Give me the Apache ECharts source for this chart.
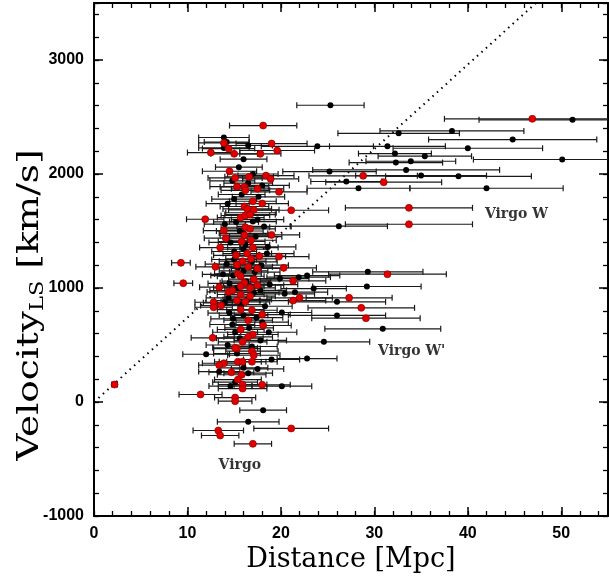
<!DOCTYPE html>
<html>
<head>
<meta charset="utf-8">
<script src="https://cdn.jsdelivr.net/npm/echarts@6/dist/echarts.min.js"></script>
<style>
html,body{margin:0;padding:0;background:#fff;}
#c{width:609px;height:581px;}
</style>
</head>
<body>
<div id="c"></div>
<script>
// Red galaxies: distance [Mpc], velocity [km/s], distance error [Mpc]
var redDist = [46.9,28.8,31.0,33.7,33.7,21.1,31.4,20.3,21.3,27.3,22.0,21.3,28.6,29.1,18.0,18.1,12.7,15.9,16.9,17.1,15.3,15.4,15.9,16.9,13.9,13.4,14.7,15.8,15.4,15.9,18.0,15.9,11.4,15.1,15.1,2.2,21.1,13.3,13.5,17.0,9.3,9.55,18.1,13.9,19.0,14.4,19.6,12.5,15.0,17.8,14.5,15.1,16.6,18.4,18.9,15.3,16.1,16.2,17.5,19.8,17.0,18.0,16.1,16.4,17.1,11.9,15.7,16.2,16.7,16.2,13.9,16.7,19.0,16.1,14.1,16.8,15.8,13.5,17.0,15.2,16.4,17.7,15.9,16.8,19.8,13.0,15.3,16.5,17.5,15.4,15.7,17.1,16.1,15.7,16.7,17.5,13.4,14.4,14.8,15.7,16.7,12.8,12.8,13.6,15.3,16.2,15.7,16.9,16.5,15.7,17.0,16.5,15.1];
var redVel  = [2484,1984,1928,1703,1559,1682,1121,1177,1063,914,914,890,826,735,767,671,563,528,446,410,469,353,353,353,340,323,261,239,197,153,151,118,66,39,7,153,-232,-250,-294,-367,1221,1042,2425,2273,2267,2223,2206,2188,2177,2177,2024,1966,1975,1986,1957,1890,1887,1857,1870,1844,1761,1741,1715,1694,1686,1603,1618,1636,1644,1533,1504,1519,1466,1463,1437,1419,1408,1355,1355,1287,1302,1279,1235,1256,1276,1186,1203,1186,1171,1124,1103,1077,1045,1016,1001,1024,1007,966,978,943,928,875,831,846,890,879,811,805,717,636,592,572,475];
var redErr  = [9.4,5.8,6.2,6.8,6.8,4.0,6.3,3.5,3.5,4.6,3.5,3.5,5.7,5.8,3.0,3.0,2.3,2.6,2.8,2.8,2.5,2.5,2.5,2.7,2.3,2.2,2.4,2.6,2.5,2.6,3.0,2.6,2.3,2.2,1.8,0.3,4.0,2.7,2.0,2.0,1.0,1.0,3.6,2.7,3.8,2.8,4.0,2.5,2.5,2.2,2.9,2.9,2.6,3.0,3.0,2.9,2.6,2.6,2.8,3.0,2.5,2.8,2.6,2.6,2.7,2.0,2.5,2.6,2.7,2.6,2.2,2.7,3.0,2.6,2.3,2.7,2.5,2.2,2.7,2.4,2.6,2.8,2.5,2.7,3.2,2.1,2.4,2.6,2.8,2.5,2.5,2.7,2.6,2.5,2.7,2.8,2.1,2.3,2.4,2.5,2.7,2.0,2.0,2.2,2.4,2.6,2.5,2.7,2.6,2.5,2.7,2.6,2.4];

// Black galaxies
var blackDist = [25.3,51.2,38.3,32.6,44.8,31.4,23.9,40.0,32.2,35.4,50.1,33.9,32.3,33.4,25.2,35.0,39.0,27.0,28.3,42.0,26.2,29.3,29.2,22.8,23.5,21.5,26.0,26.0,20.1,30.9,18.7,24.6,22.8,19.0,12.0,16.9,15.3,13.4,16.5,15.1,20.1,18.1,16.5,13.9,13.9,17.0,14.9,14.9,15.1,15.8,14.4,18.5,19.9,20.4,21.9,15.4,16.0,15.0,17.2,16.3,14.5,17.8,16.0,17.5,15.0,16.5,14.0,18.0,14.5,16.0,
  14.2,16.5,15.5,17.0,14.8,18.0,15.8,17.6,14.3,16.8,15.2,18.2,15.6,17.3,14.6,16.2,18.6,15.0,16.9,14.2,17.9,16.0,13.8,18.8,15.3,17.1,16.4,14.0,18.3,16.0,17.4,14.8,16.6,15.6,17.8,14.3,16.0,17.5,14.6];
var blackVel  = [2603,2475,2378,2357,2302,2243,2243,2226,2179,2156,2127,2112,2100,2036,2021,1986,1980,1934,1875,1875,1542,1142,1013,1109,995,963,879,759,785,642,612,528,381,373,419,487,425,267,253,174,139,-72,-174,2320,2229,1583,1109,730,612,855,914,1302,1083,949,1095,1177,1340,1250,1140,1060,1040,980,1480,1600,1780,1920,1560,700,780,2130,
  2280,2250,2060,2000,1940,1900,1820,1800,1740,1660,1580,1540,1500,1450,1400,1380,1360,1320,1230,1210,1200,1150,1120,1030,1000,960,900,870,840,760,740,680,650,560,540,500,300,290,140];
var blackErr  = [3.6,10.0,7.7,6.5,9.0,6.2,6.0,8.0,3.9,5.0,9.5,4.8,5.0,10.0,5.0,7.0,7.8,3.8,5.5,8.2,5.2,5.9,5.8,3.5,3.5,3.5,5.2,5.2,3.2,6.2,3.0,4.9,3.2,3.0,2.5,2.7,2.5,2.2,2.6,2.4,3.2,2.5,3.3,2.7,2.7,2.5,2.4,2.4,2.4,2.6,2.4,2.9,3.1,3.2,3.4,2.5,2.6,2.4,2.7,2.6,2.3,2.8,2.6,2.8,2.4,2.6,2.2,2.8,2.3,2.5,
  2.4,2.6,2.5,2.7,2.4,2.9,2.5,2.8,2.3,2.7,2.4,2.9,2.5,2.8,2.3,2.6,3.0,2.4,2.7,2.3,2.9,2.6,2.2,3.0,2.5,2.7,2.6,2.3,2.9,2.6,2.8,2.4,2.6,2.5,2.8,2.3,2.6,2.8,2.3];

// Hubble-flow reference line (dotted)
var hubbleDist = [0, 55];
var hubbleVel  = [0, 4070];

// Tick labels
var xTickLabels = [0, 10, 20, 30, 40, 50];
var yTickLabels = [-1000, 0, 1000, 2000, 3000];

// Annotations
var noteText = ['Virgo', 'Virgo W', "Virgo W'"];
var noteDist = [15.6, 45.2, 34.0];
var noteVel  = [-557, 1645, 443];

function zip(a, b, c) {
  var out = [];
  for (var i = 0; i < a.length; i++) out.push(c ? [a[i], b[i], c[i]] : [a[i], b[i]]);
  return out;
}

var redData = zip(redDist, redVel, redErr);
var blackData = zip(blackDist, blackVel, blackErr);
var errData = blackData.concat(redData);

var labelFont = 'Liberation Sans';
var titleFont = 'DejaVu Serif';

function majorAxis(pos, isX, showLabel, labels) {
  return {
    type: 'value',
    position: pos,
    min: isX ? 0 : -1000,
    max: isX ? 55 : 3500,
    interval: isX ? 10 : 1000,
    gridIndex: 0,
    axisLine: { show: true, onZero: false, lineStyle: { color: '#000', width: 2 } },
    axisTick: { show: true, inside: true, length: 9, lineStyle: { color: '#000', width: 1.5 } },
    splitLine: { show: false },
    axisLabel: {
      show: showLabel,
      color: '#000',
      fontFamily: labelFont,
      fontWeight: 'bold',
      fontSize: 16,
      margin: 10,
      formatter: function (v) { return labels.indexOf(v) >= 0 ? String(v) : ''; }
    }
  };
}
function minorAxis(pos, isX) {
  return {
    type: 'value',
    position: pos,
    min: isX ? 0 : -1000,
    max: isX ? 55 : 3500,
    interval: isX ? 2 : 200,
    gridIndex: 0,
    axisLine: { show: false, onZero: false },
    axisTick: { show: true, inside: true, length: 5, lineStyle: { color: '#000', width: 1.3 } },
    splitLine: { show: false },
    axisLabel: { show: false }
  };
}

var xMain = majorAxis('bottom', true, true, xTickLabels);
xMain.name = 'Distance [Mpc]';
xMain.nameLocation = 'middle';
xMain.nameGap = 30;
xMain.nameTextStyle = { fontFamily: titleFont, fontSize: 27, color: '#000' };

var yMain = majorAxis('left', false, true, yTickLabels);

var option = {
  animation: false,
  backgroundColor: '#fff',
  grid: { left: 94, right: 1, top: 3, bottom: 65, containLabel: false, outerBoundsMode: 'none' },
  xAxis: [xMain, minorAxis('bottom', true), majorAxis('top', true, false, xTickLabels), minorAxis('top', true)],
  yAxis: [yMain, minorAxis('left', false), majorAxis('right', false, false, yTickLabels), minorAxis('right', false)],
  graphic: [{
    type: 'text',
    x: 30,
    y: 305,
    rotation: Math.PI / 2,
    scaleX: 1.25,
    silent: true,
    style: {
      text: '{a|Velocity}{b|LS}{a| [km/s]}',
      align: 'center',
      verticalAlign: 'middle',
      fill: '#000',
      rich: {
        a: { fontFamily: titleFont, fontSize: 30, fill: '#000', color: '#000' },
        b: { fontFamily: titleFont, fontSize: 18, fill: '#000', color: '#000', padding: [16, 0, 0, 0] }
      }
    }
  }],
  series: [
    {
      type: 'line',
      data: zip(hubbleDist, hubbleVel),
      showSymbol: false,
      symbol: 'none',
      clip: true,
      lineStyle: { color: '#000', width: 2, type: [1.5, 4.5] },
      z: 1
    },
    {
      type: 'custom',
      data: errData,
      clip: true,
      z: 2,
      renderItem: function (params, api) {
        var d = api.value(0), v = api.value(1), e = api.value(2);
        var p1 = api.coord([d - e, v]);
        var p2 = api.coord([d + e, v]);
        var h = 3;
        var st = { stroke: '#1a1a1a', lineWidth: 1.2 };
        return {
          type: 'group',
          children: [
            { type: 'line', shape: { x1: p1[0], y1: p1[1], x2: p2[0], y2: p2[1] }, style: st },
            { type: 'line', shape: { x1: p1[0], y1: p1[1] - h, x2: p1[0], y2: p1[1] + h }, style: st },
            { type: 'line', shape: { x1: p2[0], y1: p2[1] - h, x2: p2[0], y2: p2[1] + h }, style: st }
          ]
        };
      }
    },
    {
      type: 'scatter',
      data: blackData,
      symbol: 'circle',
      symbolSize: 6,
      itemStyle: { color: '#000', opacity: 1 },
      z: 3
    },
    {
      type: 'scatter',
      data: redData,
      symbol: 'circle',
      symbolSize: 7,
      itemStyle: { color: '#e00000', borderColor: '#900000', borderWidth: 0.7, opacity: 1 },
      z: 4
    },
    {
      type: 'scatter',
      data: noteDist.map(function (d, i) { return [d, noteVel[i], noteText[i]]; }),
      symbolSize: 0,
      silent: true,
      z: 5,
      label: {
        show: true,
        position: 'inside',
        formatter: function (p) { return p.data[2]; },
        fontFamily: titleFont,
        fontWeight: 'bold',
        fontSize: 14,
        color: '#000'
      }
    }
  ]
};

var chart = echarts.init(document.getElementById('c'), null, { renderer: 'canvas' });
chart.setOption(option);
</script>
</body>
</html>
